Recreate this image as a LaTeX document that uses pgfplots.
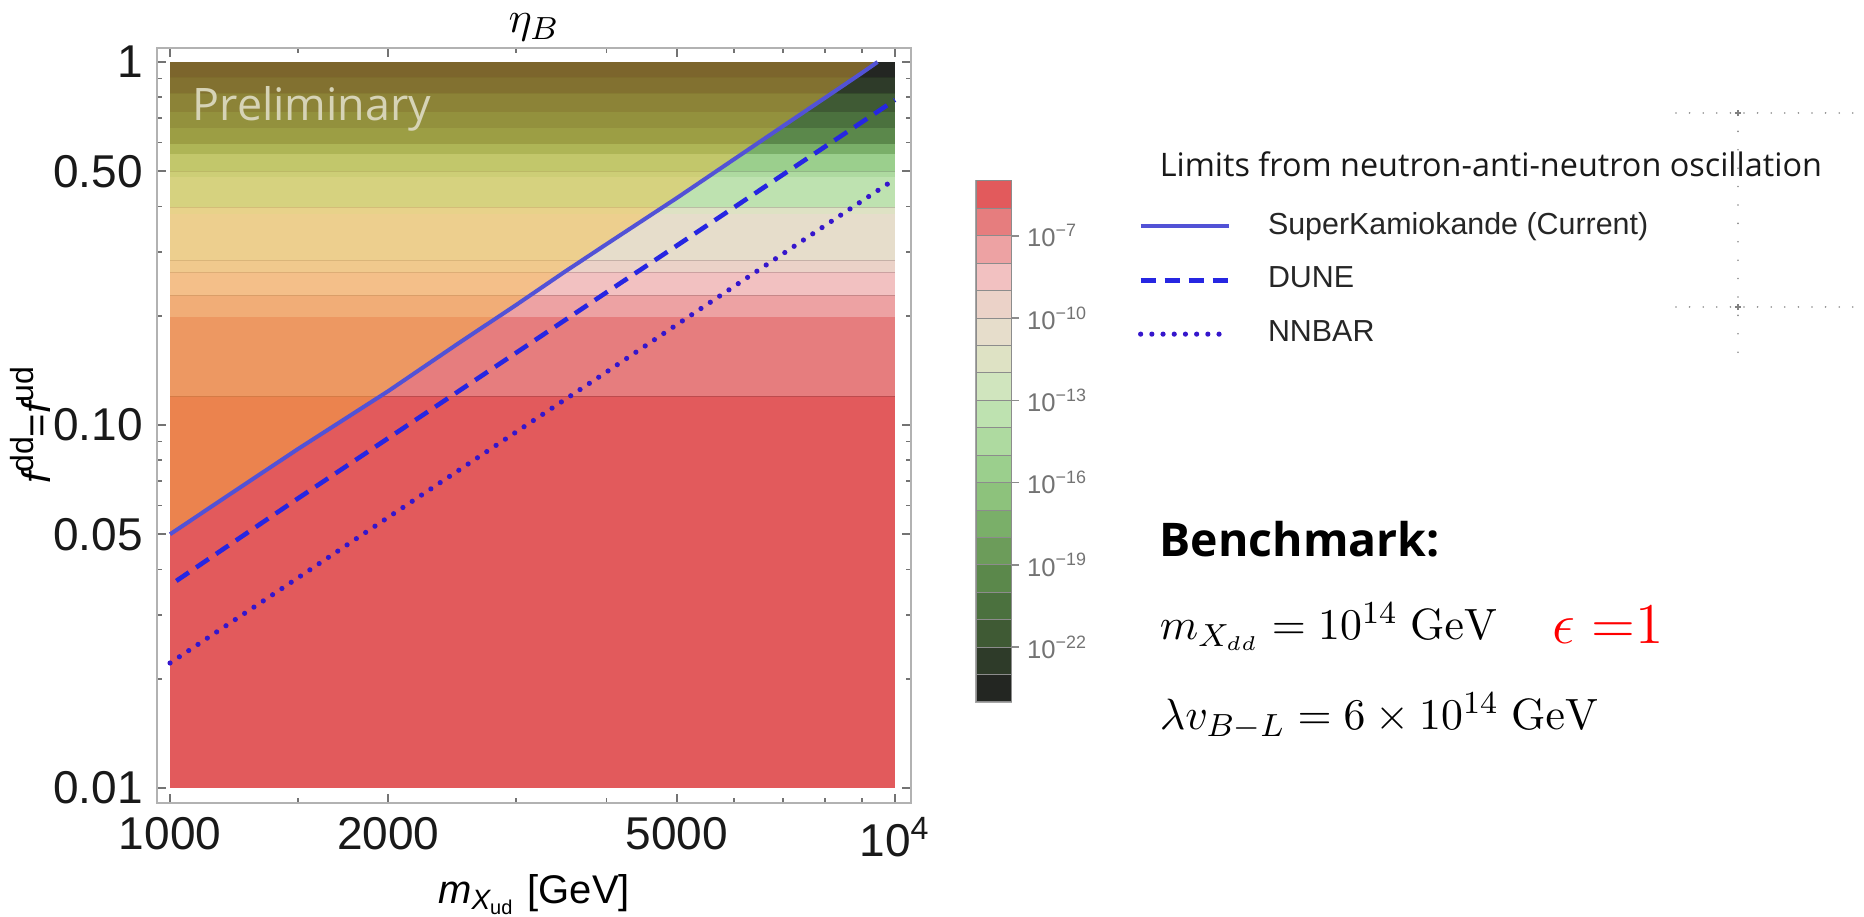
\documentclass[border=0pt]{standalone}
\usepackage{pgfplots}
\pgfplotsset{compat=1.18}
\usepackage[no-math]{fontspec}
\setmainfont{Liberation Sans}
\newfontfamily\opensans{Open Sans}

\definecolor{cb1}{HTML}{E25A5C}
\definecolor{cb2}{HTML}{E67D7E}
\definecolor{cb3}{HTML}{EDA2A3}
\definecolor{cb4}{HTML}{F2C1C1}
\definecolor{cb5}{HTML}{EBD2C8}
\definecolor{cb6}{HTML}{E6DDCB}
\definecolor{cb7}{HTML}{DEE2C4}
\definecolor{cb8}{HTML}{D0E5BE}
\definecolor{cb9}{HTML}{BEE2B0}
\definecolor{cb10}{HTML}{AEDAA0}
\definecolor{cb11}{HTML}{9BCF8D}
\definecolor{cb12}{HTML}{8DC27C}
\definecolor{cb13}{HTML}{7AAF69}
\definecolor{cb14}{HTML}{6C9C5A}
\definecolor{cb15}{HTML}{5B884B}
\definecolor{cb16}{HTML}{4B713E}
\definecolor{cb17}{HTML}{3F5A34}
\definecolor{cb18}{HTML}{2E3B29}
\definecolor{cb19}{HTML}{232622}
\definecolor{ovl}{HTML}{F8BE3C}
\definecolor{skline}{HTML}{5252D6}
\definecolor{duneline}{HTML}{2626E2}
\definecolor{nnline}{HTML}{3516CC}
\definecolor{prelim}{HTML}{D6D3B6}

% band: lower y, upper y, colour (full x range of the data)
\newcommand{\band}[3]{%
  \addplot[fill=#3, draw=none, forget plot] coordinates {(1000,#1) (10000,#1) (10000,#2) (1000,#2)} -- cycle;
  \addplot[forget plot, black, opacity=0.16, line width=0.35pt] coordinates {(1000,#2) (10000,#2)};}
\newcommand{\cbband}[3]{%
  \addplot[fill=#3, draw=black!45, line width=0.25pt, forget plot] coordinates {(0,#1) (1,#1) (1,#2) (0,#2)} -- cycle;}
\newcommand{\upidx}[1]{\raisebox{0.42em}{\fontsize{8}{9}\selectfont #1}}

\begin{document}
\begin{tikzpicture}
\path[use as bounding box] (0,0) rectangle (466pt,229.25pt);

% ---------------- main plot ----------------
\begin{axis}[
  at={(39.25pt,217.25pt)}, anchor=north west,
  scale only axis, width=188.5pt, height=188.75pt,
  xmode=log, ymode=log,
  xmin=959.5, xmax=10521, ymin=0.009094, ymax=1.093,
  xtick={1000,2000,5000,10000},
  xticklabels={1000,2000,5000,10\textsuperscript{4}},
  minor xtick={1500,3000,4000,6000,7000,8000,9000},
  ytick={0.01,0.05,0.1,0.5,1},
  yticklabels={0.01,0.05,0.10,0.50,1},
  minor ytick={0.02,0.03,0.04,0.06,0.07,0.08,0.09,0.2,0.3,0.4,0.6,0.7,0.8,0.9},
  tick label style={font=\fontsize{11.5}{13}\selectfont, black!90},
  axis line style={black!30, line width=0.5pt},
  tick style={black!55, line width=0.4pt},
  major tick length=2.2pt, minor tick length=1.3pt,
  tick align=inside,
  xticklabel pos=lower, yticklabel pos=left,
  xlabel={{\itshape m}\textsubscript{{\itshape X}\textsubscript{ud}} [GeV]},
  xlabel style={font=\fontsize{10}{12}\selectfont, at={(axis description cs:0.5,-0.121)}, anchor=center},
  ylabel={{\itshape f}\upidx{dd}={\itshape f}\upidx{ud}},
  ylabel style={font=\fontsize{10}{12}\selectfont, at={(axis description cs:-0.168,0.50)}, anchor=center},
  legend style={at={(axis description cs:1.300,0.790)}, anchor=north west, draw=none, fill=none,
    font=\fontsize{7.6}{9}\selectfont, text=black!85, row sep=4.3pt, inner sep=0pt,
    nodes={inner sep=1.2pt}},
  legend cell align=left,
  legend image code/.code={\draw[#1] (0pt,0pt) -- (22pt,0pt); \path (30pt,0pt);},
  clip=true, axis on top=true,
]
% horizontal eta_B bands
\band{0.01}{0.120}{cb1}
\band{0.120}{0.199}{cb2}
\band{0.199}{0.228}{cb3}
\band{0.228}{0.264}{cb4}
\band{0.264}{0.284}{cb5}
\band{0.284}{0.306}{cb6}
\band{0.306}{0.382}{cb6}
\band{0.382}{0.399}{cb7}
\band{0.399}{0.483}{cb9}
\band{0.483}{0.500}{cb10}
\band{0.500}{0.559}{cb11}
\band{0.559}{0.596}{cb13}
\band{0.596}{0.660}{cb15}
\band{0.660}{0.730}{cb16}
\band{0.730}{0.820}{cb17}
\band{0.820}{0.910}{cb18}
\addplot[fill=cb19, draw=none, forget plot] coordinates {(1000,0.91) (10000,0.91) (10000,1) (1000,1)} -- cycle;
% allowed region tint (above the SuperKamiokande limit)
\addplot[fill=ovl, fill opacity=0.42, draw=none, forget plot] coordinates {
 (1000,0.0500) (1200,0.0638) (1500,0.0858) (2000,0.1240) (2500,0.1680) (3000,0.2140)
 (3500,0.2640) (4000,0.3150) (5000,0.4220) (6000,0.5400) (7000,0.6650) (8000,0.7960)
 (9000,0.9330) (9460,1.0) (1000,1.0)} -- cycle;
% limits
\addplot[skline, line width=1.0pt] coordinates {
 (1000,0.0500) (1200,0.0638) (1500,0.0858) (2000,0.1240) (2500,0.1680) (3000,0.2140)
 (3500,0.2640) (4000,0.3150) (5000,0.4220) (6000,0.5400) (7000,0.6650) (8000,0.7960)
 (9000,0.9330) (9460,1.0)};
\addlegendentry{SuperKamiokande (Current)}
\addplot[duneline, line width=1.15pt, dash pattern=on 3.8pt off 2.2pt] coordinates {
 (1020,0.0372) (1500,0.0627) (2000,0.0920) (3000,0.1580) (4000,0.2320) (5000,0.3120)
 (6000,0.3980) (7000,0.4890) (8000,0.5840) (9000,0.6830) (10000,0.7860)};
\addlegendentry{DUNE}
\addplot[nnline, line width=1.3pt, line cap=round, dash pattern=on 0pt off 2.8pt] coordinates {
 (1000,0.0221) (1500,0.0379) (2000,0.0557) (3000,0.0956) (4000,0.1400) (5000,0.1890)
 (6000,0.2410) (7000,0.2960) (8000,0.3540) (9000,0.4140) (10000,0.4760)};
\addlegendentry{NNBAR}
\end{axis}

% plot label (eta_B), centred over the frame
\node[anchor=center, font=\fontsize{11}{13}\selectfont, inner sep=0pt] at (133.5pt,222.3pt) {$\eta_B$};

% ---------------- colour bar ----------------
\begin{axis}[
  at={(244pt,184pt)}, anchor=north west,
  scale only axis, width=8.75pt, height=130.25pt,
  xmin=0, xmax=1, ymin=-24, ymax=-5,
  xtick=\empty,
  ytick={-22,-19,-16,-13,-10,-7},
  yticklabels={10\textsuperscript{−22},10\textsuperscript{−19},10\textsuperscript{−16},10\textsuperscript{−13},10\textsuperscript{−10},10\textsuperscript{−7}},
  yticklabel pos=right, ytick pos=right,
  tick align=outside, major tick length=2pt,
  tick style={black!45, line width=0.35pt},
  yticklabel style={font=\fontsize{6.4}{7}\selectfont, black!55, xshift=-1.5pt},
  axis line style={black!35, line width=0.3pt},
  clip=false,
]
\cbband{-6}{-5}{cb1}
\cbband{-7}{-6}{cb2}
\cbband{-8}{-7}{cb3}
\cbband{-9}{-8}{cb4}
\cbband{-10}{-9}{cb5}
\cbband{-11}{-10}{cb6}
\cbband{-12}{-11}{cb7}
\cbband{-13}{-12}{cb8}
\cbband{-14}{-13}{cb9}
\cbband{-15}{-14}{cb10}
\cbband{-16}{-15}{cb11}
\cbband{-17}{-16}{cb12}
\cbband{-18}{-17}{cb13}
\cbband{-19}{-18}{cb14}
\cbband{-20}{-19}{cb15}
\cbband{-21}{-20}{cb16}
\cbband{-22}{-21}{cb17}
\cbband{-23}{-22}{cb18}
\cbband{-24}{-23}{cb19}
\end{axis}

% ---------------- texts ----------------
\node[anchor=base west, text=prelim, font=\opensans\fontsize{11.2}{13}\selectfont, inner sep=0pt] at (48pt,199pt) {Preliminary};
\node[anchor=base west, font=\opensans\fontsize{8.1}{10}\selectfont, text=black!90, inner sep=0pt] at (289.75pt,185pt) {Limits from neutron-anti-neutron oscillation};
\node[anchor=base west, font=\opensans\bfseries\fontsize{11.6}{13}\selectfont, inner sep=0pt] at (289.75pt,90pt) {Benchmark:};
\node[anchor=base west, font=\fontsize{11}{13}\selectfont, inner sep=0pt] at (289.75pt,69.3pt) {$m_{X_{dd}} = 10^{14}\ \mathrm{GeV}$};
\node[anchor=base west, font=\fontsize{15}{17}\selectfont, text=red, inner sep=0pt] at (388pt,68.3pt) {$\epsilon\;{=}1$};
\node[anchor=base west, font=\fontsize{11}{13}\selectfont, inner sep=0pt] at (289.75pt,46.8pt) {$\lambda v_{B-L} = 6\times 10^{14}\ \mathrm{GeV}$};

% stray dotted guide marks at the top right
\draw[black!45, line width=0.45pt, line cap=round, dash pattern=on 0pt off 3.4pt] (419pt,201pt) -- (464pt,201pt);
\draw[black!45, line width=0.45pt, line cap=round, dash pattern=on 0pt off 3.4pt] (419pt,152.5pt) -- (464pt,152.5pt);
\draw[black!45, line width=0.45pt, line cap=round, dash pattern=on 0pt off 4.6pt] (434.5pt,201pt) -- (434.5pt,138.5pt);
\draw[black!50, line width=0.4pt] (433.7pt,201pt) -- (435.3pt,201pt) (434.5pt,200.2pt) -- (434.5pt,201.8pt);
\draw[black!50, line width=0.4pt] (433.7pt,152.5pt) -- (435.3pt,152.5pt) (434.5pt,151.7pt) -- (434.5pt,153.3pt);
\end{tikzpicture}
\end{document}
